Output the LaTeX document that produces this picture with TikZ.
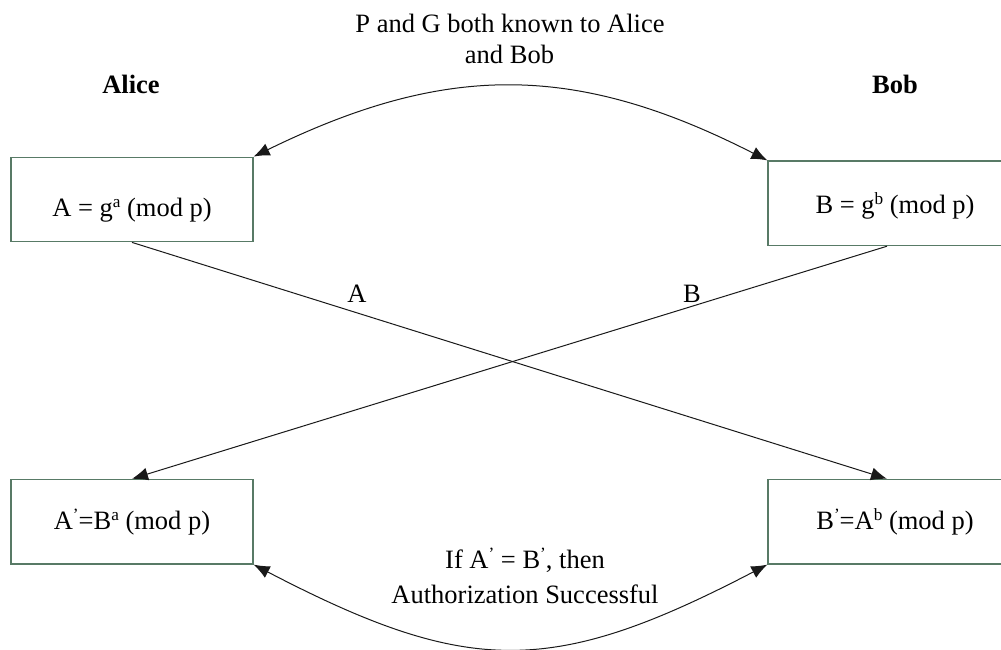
\documentclass[tikz,border=0pt]{standalone}
\usepackage{fontspec}
\setmainfont{Liberation Serif}
\usetikzlibrary{arrows.meta}
\definecolor{boxedge}{RGB}{88,122,102}
\definecolor{wire}{RGB}{25,25,25}
% small raised index (exponents and primes)
\newcommand\upidx[1]{\raisebox{0.33em}{\fontsize{17.2}{17.2}\selectfont #1}}

\begin{document}
\begin{tikzpicture}[x=1pt,y=-1pt,
  every node/.style={font=\fontsize{26.5}{30}\selectfont, text=black},
  keybox/.style={draw=boxedge, line width=1.3pt, fill=white, inner sep=0pt,
                 minimum width=#1, minimum height=84.5pt, text depth=7pt},
  wirestyle/.style={draw=wire, line width=1pt},
  headed/.style={wirestyle, -{Latex[length=16pt,width=13pt]}},
  twoheaded/.style={wirestyle, {Latex[length=16pt,width=13pt]}-{Latex[length=16pt,width=13pt]}},
  person/.style={anchor=base, font=\fontsize{26.5}{30}\selectfont\bfseries},
  caption/.style={anchor=base}
]
\useasboundingbox (0,0) rectangle (1001,649);
\clip (0,0) rectangle (1001,649);

% party names
\node[person] (alice) at (131,93.3) {Alice};
\node[person] (bob)   at (895,93.3) {Bob};

% public values
\node[keybox=242pt, text height=41.4pt] (pubA) at (132,199.5) {A = g\upidx{a} (mod p)};
\node[keybox=254pt, text height=27pt]   (pubB) at (895,203.3) {B = g\upidx{b} (mod p)};

% shared secrets
\node[keybox=242pt, text height=22.2pt] (secA) at (132,521.7) {A\upidx{’}=B\upidx{a} (mod p)};
\node[keybox=254pt, text height=22.2pt] (secB) at (895,521.7) {B\upidx{’}=A\upidx{b} (mod p)};

% common parameters
\node[caption] (common1) at (510,32.3) {P and G both known to Alice};
\node[caption] (common2) at (509.5,63.3) {and Bob};
\draw[twoheaded] (pubA.north east) .. controls +(192,-94) and +(-192,-98) .. (pubB.north west);

% exchanged values
\draw[headed] (pubA.south) -- ([xshift=-8pt]secB.north);
\draw[headed] ([xshift=-8pt]pubB.south) -- (secA.north);
\node (sendA) at (357,293.5) {A};
\node (sendB) at (692,293.7) {B};

% comparison
\node[caption] (check1) at (525,568.3) {If A\upidx{’} = B\upidx{’}, then};
\node[caption] (check2) at (525,603.3) {Authorization Successful};
\draw[twoheaded] (secA.south east) .. controls +(215,112) and +(-215,112) .. (secB.south west);
\end{tikzpicture}
\end{document}
